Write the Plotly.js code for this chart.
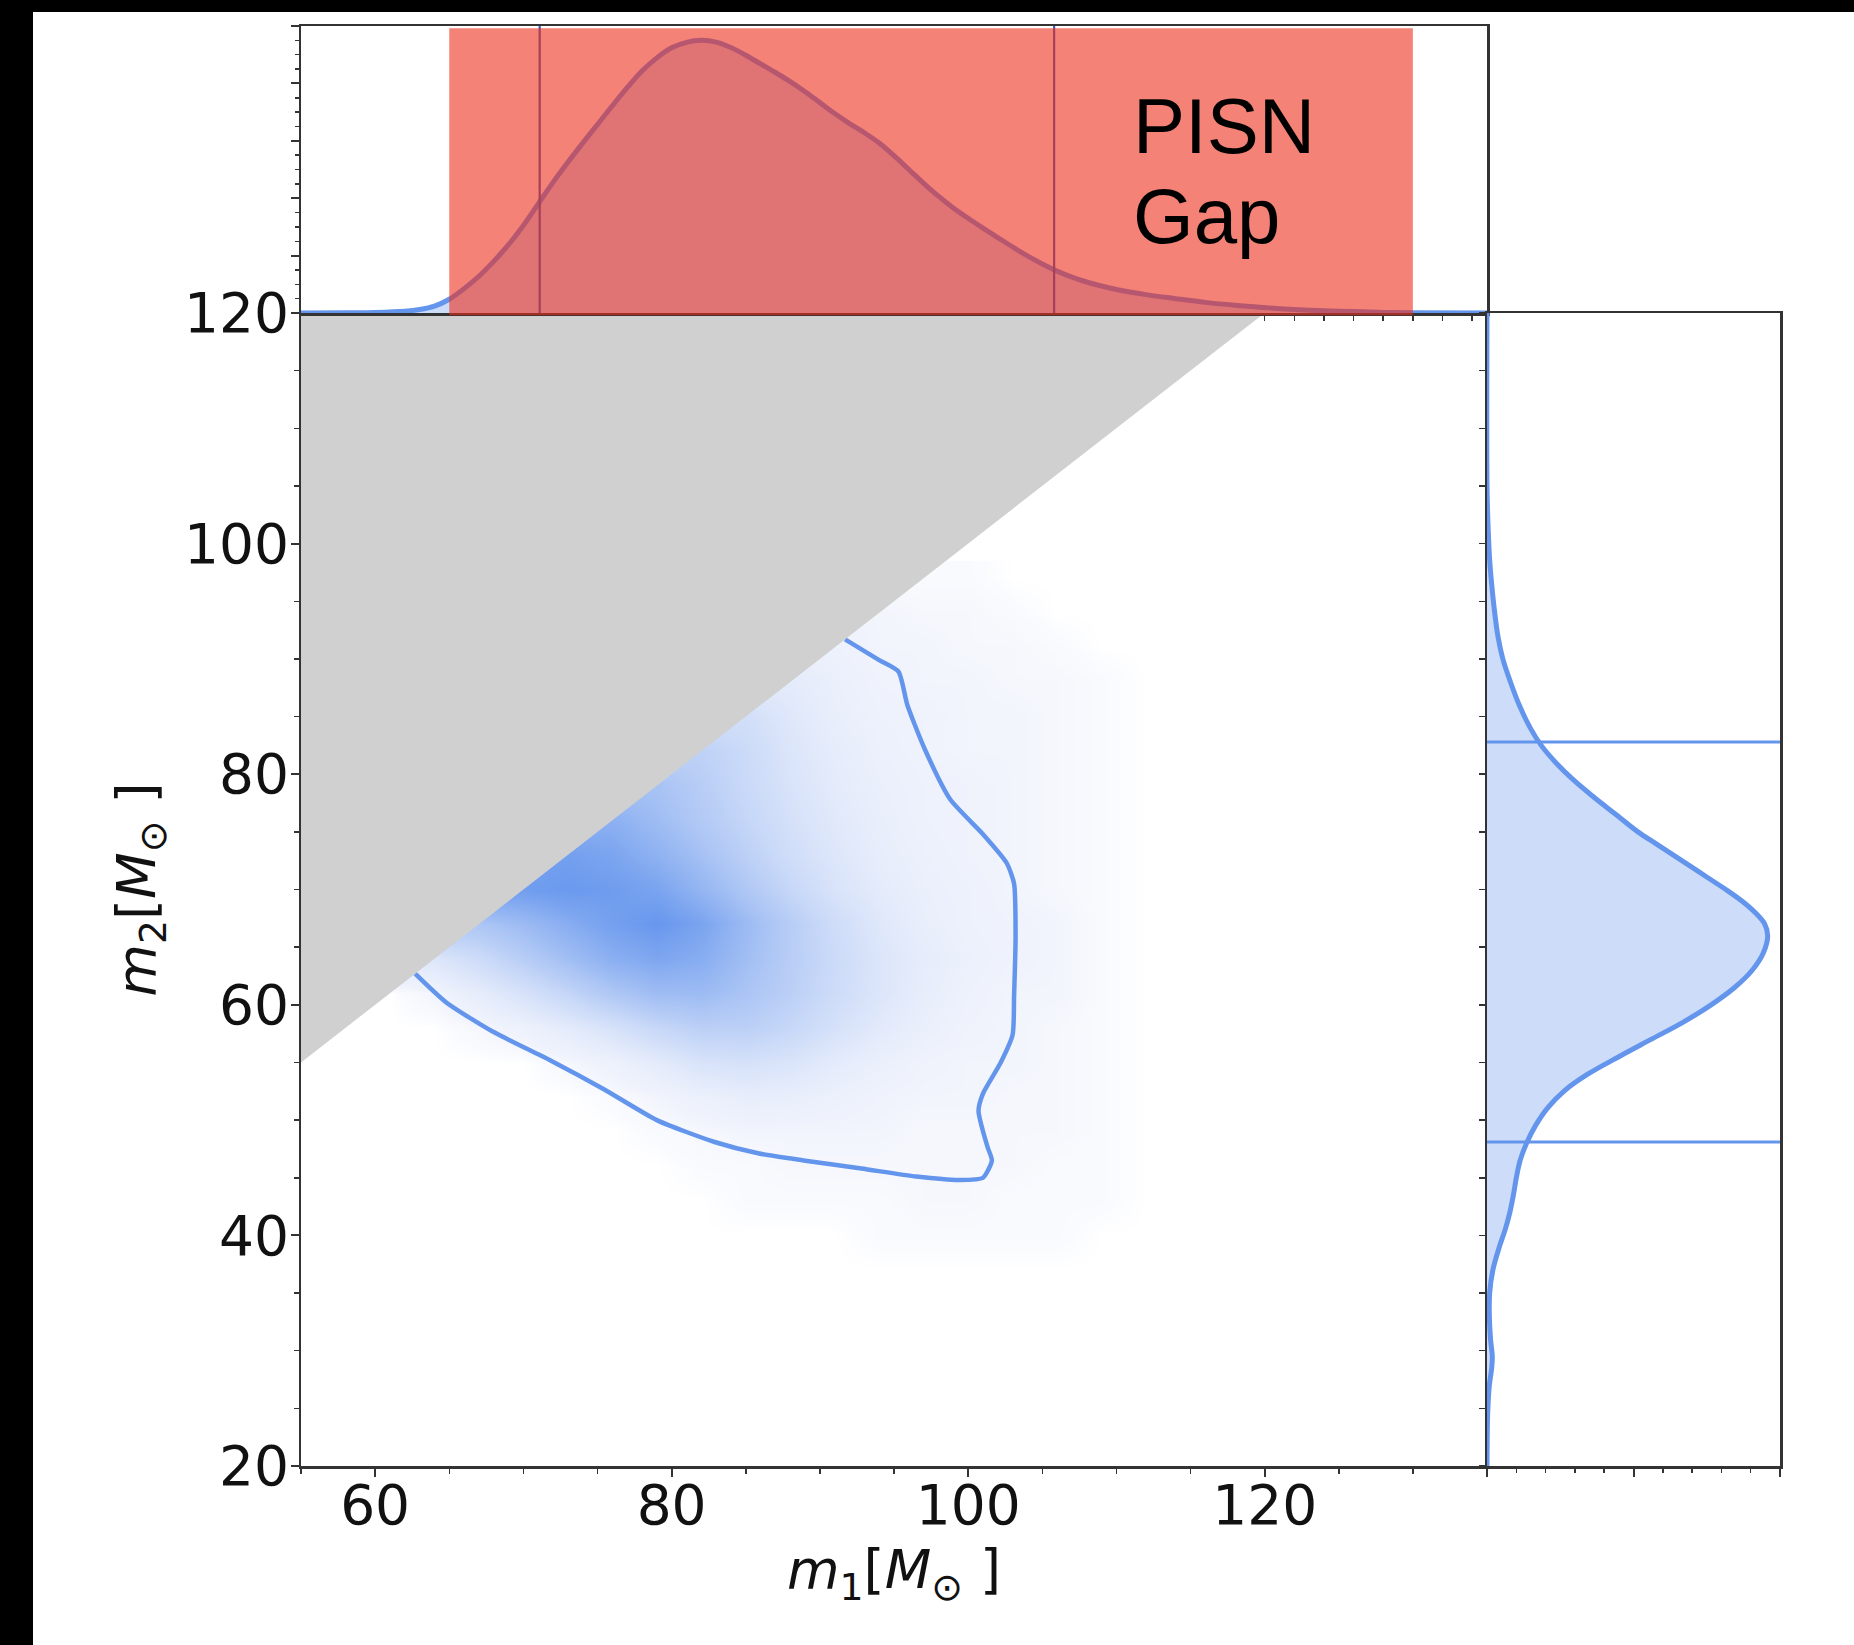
<!DOCTYPE html>
<html><head><meta charset="utf-8">
<script src="https://cdn.plot.ly/plotly-3.0.1.min.js"></script>
<style>
html,body{margin:0;padding:0;background:#000;width:1854px;height:1645px;overflow:hidden}
#chart{position:absolute;left:33px;top:12px;width:1821px;height:1633px;background:#fff}
</style></head><body><div id="chart"></div>
<script>
// ---------------- data ----------------
const m1Range = [55, 135];
const m2Range = [20, 120];
const pisnGap = [65, 130];
const m1Interval = [71.1, 105.8];
const m2Interval = [48.1, 82.8];
const m1Ticks = [60, 80, 100, 120];
const m2Ticks = [20, 40, 60, 80, 100, 120];
const topPanelTicks = [120, 122, 124, 126, 128, 130, 132, 134];
const gapLabel = ["PISN", "Gap"];

// marginal posterior of m1 (top panel, relative density)
const m1Marg = [55,58,60,62,63,64,65,66,67,68,69,70,71,72,73,74,75,76,77,78,79,80,81,82,83,84,85,86,87,88,89,90,91,92,93,94,95,96,97,98,99,100,101,102,103,104,105,106,107,108,109,110,112,114,116,118,120,122,124,126,128,130,135];
const m1Dens = [0,0.001,0.002,0.006,0.012,0.024,0.048,0.085,0.128,0.18,0.238,0.305,0.38,0.455,0.525,0.592,0.657,0.722,0.785,0.843,0.889,0.924,0.943,0.95,0.944,0.925,0.898,0.868,0.838,0.806,0.771,0.733,0.695,0.66,0.628,0.592,0.548,0.5,0.452,0.407,0.366,0.33,0.296,0.263,0.23,0.199,0.171,0.146,0.125,0.108,0.094,0.082,0.064,0.05,0.037,0.027,0.019,0.012,0.008,0.005,0.002,0.001,0];

// marginal posterior of m2 (right panel, relative density)
const m2Marg = [20,23,25,27,28.5,29.5,31,33,35,37,39,40.5,42,43.5,45,46.5,48,49.5,51,52.5,54,55.5,57,58.5,60,61.5,63,64.5,66,67,68,69,70,71,72,73,74,75,76.5,78,79.5,81,82.5,84,86,88,90,92,94.5,97,99,102,105,120];
const m2Dens = [0,0.001,0.003,0.008,0.016,0.018,0.012,0.008,0.009,0.02,0.042,0.062,0.078,0.09,0.1,0.113,0.135,0.165,0.205,0.262,0.345,0.45,0.56,0.67,0.765,0.845,0.905,0.943,0.958,0.948,0.915,0.87,0.815,0.755,0.695,0.635,0.575,0.515,0.44,0.365,0.295,0.235,0.185,0.148,0.11,0.08,0.054,0.037,0.024,0.014,0.008,0.003,0,0];

// 2D posterior density (percent of maximum colour), rows = m2Cells, columns = m1Cells
const m1Cells = [58,61,64,67,70,73,76,79,82,85,88,91,94,97,100,103,106,109,112];
const m2Cells = [37,40,43,46,49,52,55,58,61,64,67,70,73,76,79,82,85,88,91,94,97];
const density2D = [
  [0,0,0,0,0,0,0,0,0,0,0,0,0,0,0,0,0,0,0],
  [0,0,0,0,0,0,0,0,0,0,0,0,1,1,1,1,1,0,0],
  [0,0,0,0,0,0,0,0,0,1,1,1,1,2,2,1,1,1,0],
  [0,0,0,0,0,0,0,0,1,1,2,2,2,2,2,2,1,1,0],
  [0,0,0,0,0,0,0,1,2,3,3,3,3,2,2,2,2,1,0],
  [0,0,0,0,0,0,1,3,6,9,8,6,4,3,3,2,2,1,0],
  [0,0,0,0,0,2,5,11,18,20,17,11,7,4,3,3,2,1,0],
  [0,0,0,2,5,11,19,29,36,36,29,20,12,7,4,3,2,1,0],
  [0,0,3,10,19,31,44,54,55,46,36,25,16,9,5,3,3,1,0],
  [15,15,15,25,38,52,66,74,68,52,38,26,16,10,6,4,3,1,0],
  [45,45,45,45,55,68,80,88,76,55,38,24,14,8,5,4,3,1,0],
  [82,82,82,82,82,86,83,76,60,43,29,18,11,7,5,3,2,1,0],
  [80,80,80,80,80,80,75,63,49,35,23,15,9,6,4,3,2,1,0],
  [65,65,65,65,65,65,65,53,41,30,20,13,8,5,4,3,2,1,0],
  [48,48,48,48,48,48,48,48,38,27,18,11,7,5,4,3,2,1,0],
  [34,34,34,34,34,34,34,34,34,26,16,10,6,4,3,3,2,1,0],
  [22,22,22,22,22,22,22,22,22,22,14,8,5,4,3,3,2,1,0],
  [11,11,11,11,11,11,11,11,11,11,11,7,4,3,3,2,2,1,0],
  [5,5,5,5,5,5,5,5,5,5,5,5,3,3,2,2,1,0,0],
  [3,3,3,3,3,3,3,3,3,3,3,3,3,2,2,1,0,0,0],
  [1,1,1,1,1,1,1,1,1,1,1,1,1,1,1,0,0,0,0]
];

// 90% credible contour of the joint posterior
const contourM1 = [62.7,64.8,67.9,71.8,75.4,79.0,82.9,85.9,88.9,92.8,96.5,99.4,101.0,101.6,101.3,100.7,101.0,102.2,103.0,103.1,103.2,103.1,102.6,101.0,98.8,97.1,95.9,95.3,94.0,91.7];
const contourM2 = [62.7,60.2,57.7,55.2,52.7,50.0,48.1,47.1,46.5,45.8,45.1,44.8,45.0,46.5,47.7,50.8,52.3,55.0,57.4,60.8,65.9,70.5,72.3,74.8,77.8,82.1,86.0,88.9,89.9,91.7];

// ---------------- styling ----------------
const BLUE = 'rgb(100,149,237)';
const AXC = '#333333';
const tickFont = {family: 'DejaVu Sans', size: 55, color: '#111'};
const titleFont = {family: 'DejaVu Sans', size: 54, color: '#111'};
const xDom = [0, 0.8019], xDomR = [0.8019, 1];
const yDom = [0, 0.80069], yDomT = [0.80069, 1];

const traces = [
  {type: 'heatmap', x: m1Cells, y: m2Cells, z: density2D, xaxis: 'x', yaxis: 'y',
   zmin: 0, zmax: 90, zsmooth: 'best', showscale: false, hoverinfo: 'skip',
   colorscale: [[0, 'rgb(255,255,255)'], [0.008, 'rgb(250,251,254)'], [0.04, 'rgb(240,243,252)'], [1, BLUE]]},
  {type: 'scatter', mode: 'lines', x: contourM1, y: contourM2, xaxis: 'x4', yaxis: 'y4',
   line: {color: BLUE, width: 4.5, shape: 'spline', smoothing: 0.6}, hoverinfo: 'skip'},
  {type: 'scatter', mode: 'lines', xaxis: 'x4', yaxis: 'y4',
   x: [m1Range[0], m2Range[1], m1Range[0], m1Range[0]],
   y: [m1Range[0], m2Range[1], m2Range[1], m1Range[0]],
   fill: 'toself', fillcolor: '#d0d0d0', line: {width: 0, color: '#d0d0d0'}, hoverinfo: 'skip'},
  {type: 'scatter', mode: 'lines', x: m1Marg, y: m1Dens, xaxis: 'x2', yaxis: 'y2',
   fill: 'tozeroy', fillcolor: 'rgba(100,149,237,0.33)',
   line: {color: BLUE, width: 5, shape: 'spline', smoothing: 1}, hoverinfo: 'skip'},
  {type: 'scatter', mode: 'lines', x: m2Dens, y: m2Marg, xaxis: 'x3', yaxis: 'y3',
   fill: 'tozerox', fillcolor: 'rgba(100,149,237,0.33)',
   line: {color: BLUE, width: 5, shape: 'spline', smoothing: 1}, hoverinfo: 'skip'}
];

const shapes = [];
m1Interval.forEach(v => shapes.push({type: 'line', xref: 'x2', yref: 'y2 domain', x0: v, x1: v, y0: 0, y1: 1,
  line: {color: 'rgb(60,90,185)', width: 2.2}, layer: 'above'}));
m2Interval.forEach(v => shapes.push({type: 'line', xref: 'x3 domain', yref: 'y3', x0: 0, x1: 1, y0: v, y1: v,
  line: {color: BLUE, width: 3}, layer: 'above'}));
shapes.push({type: 'rect', xref: 'x2', yref: 'y2 domain', x0: pisnGap[0], x1: pisnGap[1], y0: -0.008, y1: 0.992,
  fillcolor: 'rgb(237,47,27)', opacity: 0.6, line: {width: 0}, layer: 'above'});

const gapFont = {family: 'Liberation Sans, Arial, sans-serif', size: 78, color: '#000'};
const annotations = [
  {xref: 'x2', yref: 'y2 domain', x: 111.0, y: 0.652, xanchor: 'left', yanchor: 'middle', text: gapLabel[0], showarrow: false, font: gapFont},
  {xref: 'x2', yref: 'y2 domain', x: 111.0, y: 0.338, xanchor: 'left', yanchor: 'middle', text: gapLabel[1], showarrow: false, font: gapFont}
];

const baseAx = {showgrid: false, zeroline: false, showline: true, linecolor: AXC, linewidth: 2.5,
  ticks: 'outside', tickcolor: AXC, tickwidth: 2, automargin: false, fixedrange: true};
const labelAx = {showgrid: false, zeroline: false, showline: false, ticks: '', automargin: false, fixedrange: true,
  tickfont: tickFont, tickmode: 'array'};

const layout = {
  width: 1821, height: 1633,
  margin: {l: 268, r: 74, t: 14, b: 179, pad: 0},
  paper_bgcolor: '#fff', plot_bgcolor: 'rgba(0,0,0,0)',
  showlegend: false, hovermode: false,
  // main axes: lines + tick marks
  xaxis: Object.assign({}, baseAx, {domain: xDom, range: m1Range, anchor: 'y',
    tickmode: 'array', tickvals: m1Ticks, ticklen: 8, showticklabels: false,
    minor: {tickmode: 'linear', tick0: 0, dtick: 5, ticks: 'outside', ticklen: 5, tickwidth: 1.5, tickcolor: AXC}}),
  yaxis: Object.assign({}, baseAx, {domain: yDom, range: m2Range, anchor: 'x',
    tickmode: 'array', tickvals: m2Ticks, ticklen: 8, showticklabels: false,
    minor: {tickmode: 'linear', tick0: 0, dtick: 5, ticks: 'outside', ticklen: 5, tickwidth: 1.5, tickcolor: AXC}}),
  // same axes carrying the tick labels and titles
  xaxis4: Object.assign({}, labelAx, {overlaying: 'x', range: m1Range, anchor: 'free', position: 0, side: 'bottom',
    tickvals: m1Ticks, ticktext: m1Ticks.map(String), ticklabelstandoff: 2,
    title: {text: '<i>m</i><sub>1</sub>[<i>M</i><sub>⊙</sub> ]', font: titleFont, standoff: 14}}),
  yaxis4: Object.assign({}, labelAx, {overlaying: 'y', range: m2Range, anchor: 'free', position: 0, side: 'left',
    tickvals: m2Ticks, ticktext: m2Ticks.map(String), ticklabelstandoff: 12,
    title: {text: '<i>m</i><sub>2</sub>[<i>M</i><sub>⊙</sub> ]', font: titleFont, standoff: 10}}),
  xaxis2: Object.assign({}, baseAx, {domain: xDom, matches: 'x', range: m1Range, anchor: 'y2', mirror: true,
    tickmode: 'array', tickvals: topPanelTicks, ticklen: 5, tickwidth: 1.5, showticklabels: false}),
  yaxis2: Object.assign({}, baseAx, {domain: yDomT, range: [0, 1], anchor: 'x2', mirror: true,
    tickmode: 'linear', tick0: 0, dtick: 0.2, ticklen: 8, showticklabels: false,
    minor: {tickmode: 'linear', tick0: 0, dtick: 0.05, ticks: 'outside', ticklen: 4, tickwidth: 1.5, tickcolor: AXC}}),
  xaxis3: Object.assign({}, baseAx, {domain: xDomR, range: [0, 1], anchor: 'y3', mirror: true,
    tickmode: 'linear', tick0: 0, dtick: 0.5, ticklen: 8, showticklabels: false,
    minor: {tickmode: 'linear', tick0: 0, dtick: 0.1, ticks: 'outside', ticklen: 4, tickwidth: 1.5, tickcolor: AXC}}),
  yaxis3: Object.assign({}, baseAx, {domain: yDom, matches: 'y', range: m2Range, anchor: 'x3', mirror: true,
    tickmode: 'linear', tick0: 0, dtick: 5, ticklen: 6, tickwidth: 1.5, showticklabels: false}),
  shapes: shapes,
  annotations: annotations
};

Plotly.newPlot('chart', traces, layout, {staticPlot: true, displayModeBar: false});
</script></body></html>
